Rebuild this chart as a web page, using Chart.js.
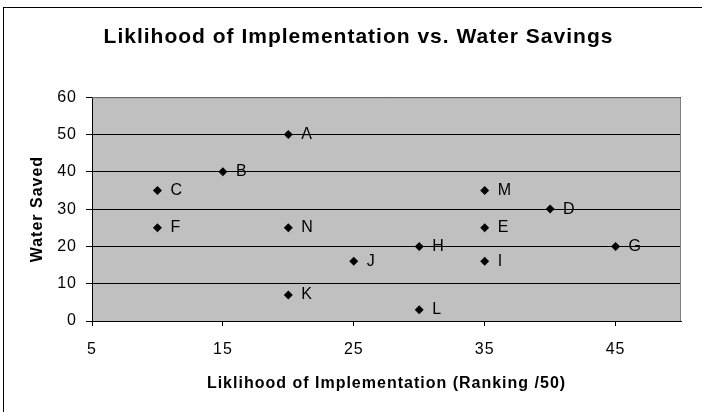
<!DOCTYPE html>
<html>
<head>
    <title>Liklihood of Implementation vs. Water Savings</title>
    <script src="https://cdn.jsdelivr.net/npm/chart.js"></script>
    <style>
        body { margin: 0; background: white; }
        .wrap { position: relative; width: 702px; height: 412px; overflow: hidden; }
        .frame {
            position: absolute;
            left: 3px;
            top: 7px;
            width: 760px;
            height: 460px;
            border-left: 1px solid #000;
            border-top: 1px solid #000;
            pointer-events: none;
        }
    </style>
</head>
<body>
<div class="wrap">
    <canvas id="scatterChart" width="702" height="412"></canvas>
    <div class="frame"></div>
</div>
<script>
// measures, letter label, likelihood (x), water saved (y)
const names = ['A', 'B', 'C', 'D', 'E', 'F', 'G', 'H', 'I', 'J', 'K', 'L', 'M', 'N'];
const likelihood = [20, 15, 10, 40, 35, 10, 45, 30, 35, 25, 20, 30, 35, 20];
const waterSaved = [50, 40, 35, 30, 25, 25, 20, 20, 16, 16, 7, 3, 35, 25];
const xTicks = [5, 15, 25, 35, 45];

const points = names.map((n, i) => ({ x: likelihood[i], y: waterSaved[i] }));
const FONT = '"Liberation Sans", Arial, sans-serif';

// the old chart's text is a bit wider spaced than Arial
const spacing = {
    id: 'spacing',
    beforeUpdate(chart) { chart.ctx.letterSpacing = '1px'; },
    beforeDraw(chart) { chart.ctx.letterSpacing = '1px'; }
};

// grey plot area plus its frame
const plotArea = {
    id: 'plotArea',
    beforeDraw(chart) {
        const { ctx, chartArea: a } = chart;
        ctx.save();
        ctx.fillStyle = '#c0c0c0';
        ctx.fillRect(a.left, a.top, a.right - a.left, a.bottom - a.top);
        ctx.restore();
    },
    afterDraw(chart) {
        const { ctx, chartArea: a } = chart;
        ctx.save();
        ctx.strokeStyle = '#808080';
        ctx.lineWidth = 1;
        ctx.beginPath();
        ctx.moveTo(a.left, a.top + 0.5);
        ctx.lineTo(a.right - 0.5, a.top + 0.5);
        ctx.lineTo(a.right - 0.5, a.bottom);
        ctx.stroke();
        ctx.restore();
    }
};

// letter next to each diamond
const pointNames = {
    id: 'pointNames',
    afterDatasetsDraw(chart) {
        const { ctx } = chart;
        const meta = chart.getDatasetMeta(0);
        ctx.save();
        ctx.font = '16px ' + FONT;
        ctx.fillStyle = '#000';
        ctx.textBaseline = 'middle';
        meta.data.forEach((el, i) => {
            ctx.fillText(names[i], el.x + 13, el.y);
        });
        ctx.restore();
    }
};

new Chart(document.getElementById('scatterChart'), {
    type: 'scatter',
    data: {
        datasets: [{
            data: points,
            pointStyle: 'rectRot',
            pointRadius: 4.5,
            pointHoverRadius: 4.5,
            backgroundColor: '#000',
            borderColor: '#000',
            borderWidth: 0
        }]
    },
    options: {
        responsive: false,
        animation: false,
        layout: { padding: { left: 36, right: 21, top: 25, bottom: 0 } },
        plugins: {
            legend: { display: false },
            tooltip: { enabled: false },
            title: {
                display: true,
                text: 'Liklihood of Implementation vs. Water Savings',
                color: '#000',
                font: { family: FONT, size: 21, weight: 'bold' },
                padding: { top: 0, bottom: 47 }
            }
        },
        scales: {
            x: {
                type: 'linear',
                min: 5,
                max: 50,
                afterBuildTicks: s => { s.ticks = xTicks.map(v => ({ value: v })); },
                ticks: { color: '#000', font: { family: FONT, size: 16 }, padding: 14 },
                grid: { drawOnChartArea: false, drawTicks: true, tickLength: 5, color: '#000' },
                border: { display: true, color: '#000' },
                title: {
                    display: true,
                    text: 'Liklihood of Implementation (Ranking /50)',
                    color: '#000',
                    font: { family: FONT, size: 16, weight: 'bold' },
                    padding: { top: 4, bottom: 19 }
                },
                afterFit: s => { s.height = 91; }
            },
            y: {
                min: 0,
                max: 60,
                ticks: { stepSize: 10, color: '#000', font: { family: FONT, size: 16 }, padding: 9 },
                grid: { color: '#000', tickLength: 6 },
                border: { display: true, color: '#000' },
                title: {
                    display: true,
                    text: 'Water Saved',
                    color: '#000',
                    font: { family: FONT, size: 16, weight: 'bold' },
                    padding: { top: -8, bottom: 4 }
                },
                afterFit: s => { s.width = 56; }
            }
        }
    },
    plugins: [spacing, plotArea, pointNames]
});
</script>
</body>
</html>
